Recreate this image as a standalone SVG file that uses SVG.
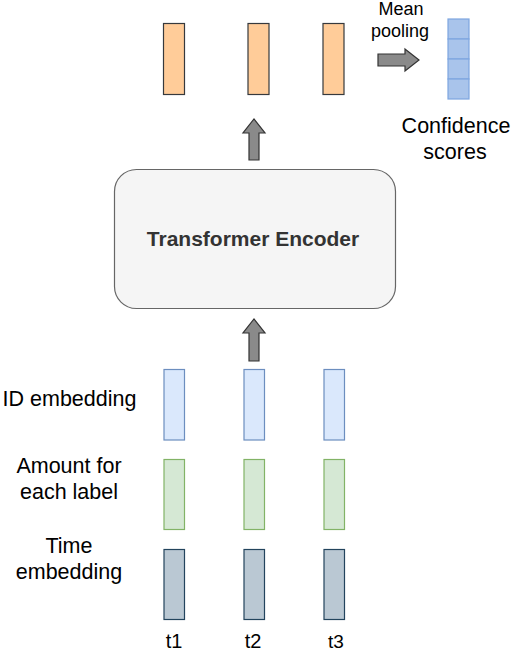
<svg xmlns="http://www.w3.org/2000/svg" width="514" height="652" viewBox="0 0 514 652">
<style>
text{font-family:"Liberation Sans",Arial,sans-serif;fill:#000;}
.lbl{font-size:21.5px;}
.mp{font-size:18px;}
.t{font-size:20px;}
.orange{fill:#ffcc99;stroke:#36393d;stroke-width:1.2;}
.blue{fill:#dae8fc;stroke:#6c8ebf;stroke-width:1.2;}
.green{fill:#d5e8d4;stroke:#82b366;stroke-width:1.2;}
.dark{fill:#bac8d3;stroke:#23445d;stroke-width:1.2;}
.conf{fill:#a9c4eb;stroke:#7ea6e0;stroke-width:1.2;}
.arrow{fill:#8a8a8a;stroke:#333;stroke-width:1.2;stroke-linejoin:miter;}
</style>
<rect width="514" height="652" fill="#fff"/>
<g id="connectors">
<path class="arrow" d="M249,160 L249,133 L243,133 L254,119 L265,133 L259,133 L259,160 Z"/>
<path class="arrow" d="M249,361 L249,333 L243,333 L254,319 L265,333 L259,333 L259,361 Z"/>
<path class="arrow" d="M378,54 L405,54 L405,49 L419,60 L405,71 L405,66 L378,66 Z"/>
</g>
<g id="out1"><rect class="orange" x="163.5" y="23.5" width="21" height="71"/></g>
<g id="out2"><rect class="orange" x="248" y="23.5" width="21" height="71"/></g>
<g id="out3"><rect class="orange" x="323" y="23.5" width="21" height="71"/></g>
<g id="mean-pooling"><text class="mp" x="401" y="15" text-anchor="middle">Mean</text><text class="mp" x="400" y="37" text-anchor="middle">pooling</text></g>
<g id="confidence">
<rect class="conf" x="448" y="19" width="21" height="20"/>
<rect class="conf" x="448" y="39" width="21" height="20"/>
<rect class="conf" x="448" y="59" width="21" height="20"/>
<rect class="conf" x="448" y="79" width="21" height="20"/>
<text class="lbl" x="456" y="133" text-anchor="middle">Confidence</text>
<text class="lbl" x="455" y="159" text-anchor="middle">scores</text>
</g>
<g id="encoder"><rect x="114.5" y="169.5" width="281" height="139" rx="22" ry="22" fill="#f5f5f5" stroke="#666" stroke-width="1.2"/><text x="253" y="246" text-anchor="middle" style="font-size:21px;font-weight:bold;fill:#333">Transformer Encoder</text></g>
<g id="id-embedding">
<text class="lbl" x="69.5" y="406" text-anchor="middle">ID embedding</text>
<rect class="blue" x="164" y="369.5" width="20.5" height="70.5"/>
<rect class="blue" x="244" y="369.5" width="20.5" height="70.5"/>
<rect class="blue" x="324" y="369.5" width="20.5" height="70.5"/>
</g>
<g id="amount">
<text class="lbl" x="69" y="473" text-anchor="middle">Amount for</text>
<text class="lbl" x="69" y="499" text-anchor="middle">each label</text>
<rect class="green" x="164" y="459.5" width="20.5" height="70"/>
<rect class="green" x="244" y="459.5" width="20.5" height="70"/>
<rect class="green" x="324" y="459.5" width="20.5" height="70"/>
</g>
<g id="time-embedding">
<text class="lbl" x="69" y="553" text-anchor="middle">Time</text>
<text class="lbl" x="69" y="579" text-anchor="middle">embedding</text>
<rect class="dark" x="164" y="549.5" width="20.5" height="70"/>
<rect class="dark" x="244" y="549.5" width="20.5" height="70"/>
<rect class="dark" x="324" y="549.5" width="20.5" height="70"/>
</g>
<g id="steps">
<text class="t" x="174" y="648" text-anchor="middle">t1</text>
<text class="t" x="253" y="648" text-anchor="middle">t2</text>
<text class="t" x="336" y="648" text-anchor="middle" style="font-size:19px">t3</text>
</g>
</svg>
